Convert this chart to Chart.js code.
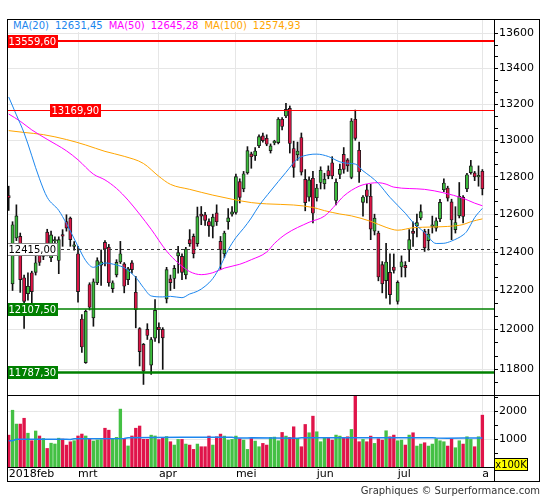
<!DOCTYPE html>
<html>
<head>
<meta charset="utf-8">
<script src="https://cdn.jsdelivr.net/npm/chart.js@4.4.1/dist/chart.umd.min.js"></script>
<style>
  html, body { margin:0; padding:0; background:#fff; }
  body { width:545px; height:500px; position:relative; overflow:hidden; font-family:"DejaVu Sans", sans-serif; }
  .abs { position:absolute; }
  #frame { left:7px; top:19px; width:533px; height:463px; border:1px solid #000; box-sizing:border-box; pointer-events:none; }
  #sep { left:7px; top:395px; width:533px; height:1px; background:#000; }
  #vaxis { left:494px; top:19px; width:1px; height:462px; background:#000; }
  #legend { left:8px; top:20px; height:12px; line-height:12px; font-size:10px; background:#fff; padding:0 4px 0 5px; white-space:nowrap; }
  #legend span { margin-right:6px; }
  #unit { left:494px; top:458px; width:34px; height:13px; box-sizing:border-box; border:1px solid #000; background:#ffff00; font-size:10px; line-height:11px; text-align:center; }
  #credit { right:5px; top:485px; font-size:10px; line-height:12px; color:#333; white-space:nowrap; }
</style>
</head>
<body>
<div class="abs" style="left:0;top:0;width:545px;height:395px;"><canvas id="cp" width="545" height="395"></canvas></div>
<div class="abs" style="left:0;top:395px;width:545px;height:87px;"><canvas id="cv" width="545" height="87"></canvas></div>
<div id="legend" class="abs"></div>
<div id="unit" class="abs">x100K</div>
<div id="sep" class="abs"></div>
<div id="vaxis" class="abs"></div>
<div id="frame" class="abs"></div>
<div id="credit" class="abs">Graphiques © Surperformance.com</div>
<script>
// ---------------- data ----------------
const dates = [
 '02-05','02-06','02-07','02-08','02-09','02-12','02-13','02-14','02-15','02-16','02-19','02-20','02-21','02-22','02-23','02-26','02-27','02-28',
 '03-01','03-02','03-05','03-06','03-07','03-08','03-09','03-12','03-13','03-14','03-15','03-16','03-19','03-20','03-21','03-22','03-23','03-26','03-27','03-28','03-29',
 '04-03','04-04','04-05','04-06','04-09','04-10','04-11','04-12','04-13','04-16','04-17','04-18','04-19','04-20','04-23','04-24','04-25','04-26','04-27','04-30',
 '05-02','05-03','05-04','05-07','05-08','05-09','05-10','05-11','05-14','05-15','05-16','05-17','05-18','05-22','05-23','05-24','05-25','05-28','05-29','05-30','05-31',
 '06-01','06-04','06-05','06-06','06-07','06-08','06-11','06-12','06-13','06-14','06-15','06-18','06-19','06-20','06-21','06-22','06-25','06-26','06-27','06-28','06-29',
 '07-02','07-03','07-04','07-05','07-06','07-09','07-10','07-11','07-12','07-13','07-16','07-17','07-18','07-19','07-20','07-23','07-24','07-25','07-26','07-27','07-30','07-31',
 '08-01'
];
const monthTickLabels = ['2018feb','mrt','apr','mei','jun','jul','a'];

const open = [
 12700,12234,12474,12482,12266,12184,12292,12294,12386,12377,
 12505,12370,12458,12356,12492,12561,12579,12430,12391,12054,
 11834,12231,12060,12240,12332,12451,12426,12210,12281,12348,
 12338,12256,12343,12191,12005,11925,12001,11821,11957,12012,
 12001,12157,12260,12262,12380,12377,12281,12465,12482,12444,
 12600,12597,12561,12535,12607,12456,12391,12560,12600,12609,
 12775,12736,12822,12925,12915,12970,13024,13011,12943,12985,
 12987,13116,13134,13176,12955,12920,13015,12787,12691,12793,
 12688,12770,12763,12835,12877,12673,12814,12923,12893,12798,
 13116,12945,12663,12731,12696,12510,12500,12334,12251,12294,
 12322,12144,12322,12330,12412,12510,12538,12580,12509,12460,
 12535,12526,12575,12731,12740,12666,12518,12591,12691,12736,
 12823,12822,12800,12831
];
const high = [
 12750,12560,12650,12500,12280,12292,12300,12386,12420,12440,
 12520,12510,12480,12480,12518,12597,12585,12455,12430,12077,
 12100,12240,12260,12370,12412,12460,12440,12250,12360,12456,
 12345,12320,12355,12273,12010,11930,12030,11960,12153,12034,
 12010,12320,12280,12330,12430,12390,12425,12518,12495,12638,
 12641,12610,12575,12600,12650,12482,12510,12630,12640,12815,
 12790,12830,12965,12935,12960,13030,13040,13030,12980,13000,
 13125,13125,13205,13190,12995,12990,13040,12840,12800,12830,
 12760,12855,12820,12860,12910,12790,12870,12960,12900,13120,
 13167,12990,12700,12760,12760,12600,12510,12350,12446,12390,
 12390,12250,12380,12350,12518,12560,12600,12650,12520,12520,
 12590,12580,12680,12790,12750,12680,12640,12770,12700,12820,
 12890,12830,12860,12840
];
const low = [
 12620,12200,12460,12190,12006,12150,12077,12280,12330,12360,
 12380,12350,12420,12287,12430,12510,12430,12410,12140,11885,
 11830,12100,12017,12230,12226,12327,12222,12190,12270,12340,
 12188,12230,12290,12009,11817,11725,11950,11775,11940,11933,
 11800,12136,12200,12210,12290,12256,12260,12430,12369,12430,
 12544,12540,12482,12474,12540,12308,12370,12520,12590,12600,
 12660,12720,12815,12847,12890,12960,12990,12970,12930,12975,
 12980,13057,13125,12930,12798,12890,12810,12618,12670,12553,
 12670,12735,12735,12790,12790,12650,12790,12820,12830,12790,
 13000,12770,12590,12660,12465,12490,12250,12188,12160,12130,
 12290,12130,12270,12270,12350,12430,12480,12570,12403,12410,
 12500,12510,12560,12720,12670,12465,12500,12580,12553,12720,
 12815,12780,12750,12703
];
const close = [
 12687,12544,12591,12256,12144,12222,12194,12344,12346,12421,
 12400,12490,12466,12465,12484,12526,12465,12436,12194,11912,
 12093,12114,12245,12355,12349,12416,12240,12240,12346,12391,
 12222,12312,12308,12102,11889,11791,11970,11950,12098,12000,
 11958,12308,12241,12315,12397,12294,12416,12444,12391,12587,
 12590,12567,12538,12584,12560,12412,12500,12580,12612,12802,
 12690,12817,12943,12910,12941,13020,12998,12978,12969,12996,
 13116,13076,13171,12982,12852,12941,12826,12662,12784,12605,
 12740,12836,12788,12806,12805,12771,12841,12841,12860,13106,
 13010,12827,12692,12695,12521,12579,12270,12234,12348,12179,
 12304,12242,12349,12318,12465,12498,12555,12614,12422,12495,
 12542,12565,12663,12767,12686,12569,12556,12696,12588,12812,
 12860,12800,12806,12736
];
// volume in units of 100K
const volume = [
 1150,2050,1550,1550,1760,1220,950,1300,1120,1030,
 670,860,830,1040,1010,790,910,950,1120,1190,
 1120,1000,940,980,990,1400,1330,1030,1070,2090,
 1000,760,1120,1400,1480,1000,1000,1150,1120,990,
 1040,1100,912,792,996,996,828,792,636,828,
 732,732,1116,792,1092,1188,1116,972,996,1116,
 1020,972,636,1032,936,732,852,792,1068,1080,
 948,1248,1116,1068,1452,1032,732,1536,1236,1836,
 1272,912,1068,1068,972,1152,1116,1068,1092,1356,
 2900,912,996,912,1116,852,1020,972,1308,1092,
 1152,948,972,792,1152,1236,756,828,876,756,
 828,1020,948,912,756,1008,696,948,828,1092,
 996,732,1092,1872
];

// moving averages (day index, value)
const ma20Idx = [0,2,4,8,10,13,15,18,20,22,25,28,30,33,35,37,40,42,45,47,49,51,53,55,57,59,61,63,65,68,72,75,78,80,83,86,88,90,92,94,96,99,103,105,108,111,113,115,118,119,121,123];
const ma20Val = [13240,13140,13040,12790,12690,12620,12550,12430,12355,12320,12343,12332,12318,12268,12215,12172,12167,12170,12163,12182,12196,12222,12262,12328,12412,12476,12525,12580,12645,12724,12825,12898,12921,12924,12911,12882,12874,12870,12833,12802,12765,12690,12605,12556,12503,12445,12446,12458,12490,12510,12582,12631];
const ma50Idx = [0,3,6,10,15,18,22,25,28,31,34,37,41,44,47,50,53,56,60,63,67,69,72,78,82,85,87,91,94,96,98,100,108,113,118,121,123];
const ma50Val = [13145,13105,13057,13005,12942,12893,12815,12784,12738,12675,12600,12520,12405,12343,12298,12282,12292,12316,12336,12360,12400,12445,12495,12557,12590,12652,12697,12750,12766,12769,12761,12745,12733,12714,12685,12659,12645];
const ma100Idx = [0,4,9,15,20,25,30,35,39,42,47,53,58,63,67,74,79,82,86,89,94,98,101,105,110,114,118,120,123];
const ma100Val = [13053,13043,13031,13004,12974,12939,12912,12873,12803,12760,12733,12702,12680,12662,12655,12649,12636,12619,12601,12591,12562,12530,12515,12528,12532,12535,12545,12560,12575];
const volMaIdx = [0,1,2,15,16,17,30,31,45,58,59,62,63,75,76,110,111,114,118,123];
const volMaVal = [950,950,1000,1000,990,1020,1030,1060,1070,1075,1050,1050,1060,1040,1060,1060,1050,1040,1045,1050];

const maNames = ['MA(20)','MA(50)','MA(100)'];
const maLast = ['12631,45','12645,28','12574,93'];

const levelValues = [13559.60, 13169.90, 12415.00, 12107.50, 11787.30];
const levelTexts = ['13559,60','13169,90','12415,00','12107,50','11787,30'];

const priceMajorTicks = [11800,12000,12200,12400,12600,12800,13000,13200,13400,13600];
const volumeTicks = [500,1000,1500,2000,2500];
const volumeLabelTicks = [1000,2000];

// ---------------- styling / layout ----------------
const GREEN = '#3cbc3c', RED = '#dc1446';
const VGREEN = '#44c044', VRED = '#e0144a';
const MA_COLORS = ['#1c86ee','#ff00ff','#ffa500'];
const GRID = '#e6e6e6';
const X_MIN = -0.44, X_MAX = 126.02;
const Y_MIN = 11672.8, Y_MAX = 13683.8;
const V_MAX = 2600;
const levelStyle = [
  {line:'#ff0000', w:2,   bg:'#ff0000', fg:'#ffffff', dx:0},
  {line:'#ff0000', w:1,   bg:'#ff0000', fg:'#ffffff', dx:43},
  {line:'#333333', w:1,   bg:'#ffffff', fg:'#000000', dx:0, dash:[3,3], border:'#8a8a8a'},
  {line:'#008000', w:1.5, bg:'#008000', fg:'#ffffff', dx:0},
  {line:'#008000', w:2.5, bg:'#008000', fg:'#ffffff', dx:0}
];

Chart.defaults.font.family = '"DejaVu Sans", sans-serif';
Chart.defaults.color = '#000';

// legend text
const lg = document.getElementById('legend');
maNames.forEach((n, k) => {
  const a = document.createElement('span'); a.textContent = n; a.style.color = MA_COLORS[k]; lg.appendChild(a);
  const b = document.createElement('span'); b.textContent = maLast[k]; b.style.color = MA_COLORS[k]; lg.appendChild(b);
});

// month tick positions from the dates
const monthTickIdx = [];
dates.forEach((d, i) => { if (i === 0 || d.slice(0,2) !== dates[i-1].slice(0,2)) monthTickIdx.push(i); });

// minor price ticks (two between each labelled tick)
const priceTicks = [];
priceMajorTicks.forEach((v, k) => {
  priceTicks.push({value:v, major:true});
  if (k < priceMajorTicks.length - 1) {
    priceTicks.push({value:v + 200/3, major:false});
    priceTicks.push({value:v + 400/3, major:false});
  }
});
priceTicks.push({value:11800 - 200/3, major:false});
priceTicks.push({value:11800 - 400/3, major:false});

const idx = dates.map((d, i) => i);
const isUp = idx.map(i => close[i] >= open[i]);

function xScale(showLabels) {
  return {
    type:'linear', min:X_MIN, max:X_MAX, bounds:'data', offset:false,
    afterBuildTicks: ax => { ax.ticks = monthTickIdx.map(v => ({value:v})); },
    ticks: { display:showLabels, autoSkip:false, maxRotation:0, minRotation:0, align:'start', padding:1,
             color:'#000', font:{size:11}, callback:(v, i) => monthTickLabels[i] },
    grid: { color: c => (c.index === 0 ? 'rgba(0,0,0,0)' : GRID), drawTicks:false, lineWidth:1, offset:false },
    border: { display:showLabels, color:'#000', width:1 },
    afterFit: s => { s.height = showLabels ? 15 : 0; s.paddingLeft = 0; s.paddingRight = 0; }
  };
}

const levelPlugin = {
  id:'levels',
  afterDatasetsDraw(chart) {
    const {ctx, chartArea:a} = chart;
    const y = chart.scales.y;
    ctx.save();
    levelValues.forEach((v, k) => {
      const st = levelStyle[k];
      let py = y.getPixelForValue(v);
      py = Math.round(py) + ((Math.round(st.w) % 2) ? 0.5 : 0);
      ctx.strokeStyle = st.line; ctx.lineWidth = st.w; ctx.setLineDash(st.dash || []);
      ctx.beginPath(); ctx.moveTo(a.left, py); ctx.lineTo(a.right, py); ctx.stroke();
      ctx.setLineDash([]);
      ctx.font = '10px "DejaVu Sans"';
      const tw = ctx.measureText(levelTexts[k]).width;
      const bw = Math.ceil(tw) + 3, bh = 13;
      const bx = a.left + st.dx, by = Math.round(py - bh / 2);
      ctx.fillStyle = st.bg; ctx.fillRect(bx, by, bw, bh);
      if (st.border) { ctx.strokeStyle = st.border; ctx.lineWidth = 1; ctx.strokeRect(bx + 0.5, by + 0.5, bw - 1, bh - 1); }
      ctx.fillStyle = st.fg; ctx.textAlign = 'left'; ctx.textBaseline = 'middle';
      ctx.fillText(levelTexts[k], bx + 1.5, by + bh / 2 + 0.5);
    });
    ctx.restore();
  }
};

// ---------------- price chart ----------------
new Chart(document.getElementById('cp'), {
  data: {
    datasets: [
      { type:'line', label:'MA20', data: ma20Idx.map((x, k) => ({x, y:ma20Val[k]})), borderColor:MA_COLORS[0], borderWidth:1,
        pointRadius:0, cubicInterpolationMode:'monotone', order:0 },
      { type:'line', label:'MA50', data: ma50Idx.map((x, k) => ({x, y:ma50Val[k]})), borderColor:MA_COLORS[1], borderWidth:1,
        pointRadius:0, cubicInterpolationMode:'monotone', order:0 },
      { type:'line', label:'MA100', data: ma100Idx.map((x, k) => ({x, y:ma100Val[k]})), borderColor:MA_COLORS[2], borderWidth:1,
        pointRadius:0, cubicInterpolationMode:'monotone', order:0 },
      { type:'bar', label:'body', data: idx.map(i => ({x:i, y:[open[i], close[i]]})),
        backgroundColor: idx.map(i => isUp[i] ? GREEN : RED), borderColor:'#1a1a1a', borderWidth:0.9, borderSkipped:false,
        barThickness:3.2, minBarLength:1.5, grouped:false, order:1 },
      { type:'bar', label:'wick', data: idx.map(i => ({x:i, y:[low[i], high[i]]})),
        backgroundColor:'#111', borderWidth:0, barThickness:1, grouped:false, order:2 }
    ]
  },
  options: {
    responsive:false, animation:false, devicePixelRatio:1,
    layout: { padding: {left:7, top:19, right:0, bottom:0} },
    plugins: { legend:{display:false}, tooltip:{enabled:false} },
    scales: {
      x: xScale(false),
      y: {
        type:'logarithmic', position:'right', min:Y_MIN, max:Y_MAX, bounds:'data',
        afterBuildTicks: ax => { ax.ticks = priceTicks.map(t => ({value:t.value})); },
        ticks: { autoSkip:false, padding:1, color:'#000', font:{size:11},
                 callback: v => (priceMajorTicks.indexOf(Math.round(v)) >= 0 && Math.abs(v - Math.round(v)) < 1e-6 ? String(Math.round(v)) : '') },
        grid: { color: c => (c.tick && priceMajorTicks.indexOf(c.tick.value) >= 0 ? GRID : 'rgba(0,0,0,0)'),
                tickColor:'#000', tickLength:4, drawTicks:true, lineWidth:1 },
        border: { color:'#000', width:1 },
        afterFit: s => { s.width = 51; s.paddingTop = 0; s.paddingBottom = 0; }
      }
    }
  },
  plugins: [levelPlugin]
});

// ---------------- volume chart ----------------
new Chart(document.getElementById('cv'), {
  data: {
    datasets: [
      { type:'line', label:'volMA', data: volMaIdx.map((x, k) => ({x, y:volMaVal[k]})), borderColor:MA_COLORS[0], borderWidth:1.5,
        pointRadius:0, tension:0, order:0 },
      { type:'bar', label:'volume', data: idx.map(i => ({x:i, y:volume[i]})),
        backgroundColor: idx.map(i => isUp[i] ? VGREEN : VRED), borderWidth:0, barThickness:2.7, grouped:false, order:1 }
    ]
  },
  options: {
    responsive:false, animation:false, devicePixelRatio:1,
    layout: { padding: {left:7, top:0, right:0, bottom:0} },
    plugins: { legend:{display:false}, tooltip:{enabled:false} },
    scales: {
      x: xScale(true),
      y: {
        type:'linear', position:'right', min:0, max:V_MAX, bounds:'data',
        afterBuildTicks: ax => { ax.ticks = volumeTicks.map(v => ({value:v})); },
        ticks: { autoSkip:false, padding:1, color:'#000', font:{size:11},
                 callback: v => (volumeLabelTicks.indexOf(v) >= 0 ? String(v) : '') },
        grid: { color: c => (c.tick && volumeLabelTicks.indexOf(c.tick.value) >= 0 ? GRID : 'rgba(0,0,0,0)'),
                tickColor:'#000', tickLength:4, drawTicks:true, lineWidth:1 },
        border: { color:'#000', width:1 },
        afterFit: s => { s.width = 51; s.paddingTop = 0; s.paddingBottom = 0; }
      }
    }
  }
});
</script>
</body>
</html>
